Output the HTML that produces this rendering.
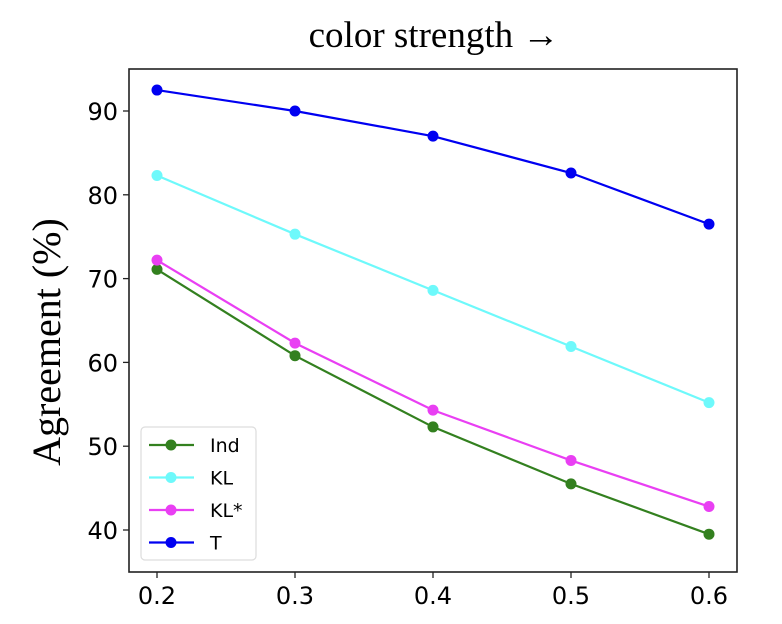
<!DOCTYPE html>
<html><head><meta charset="utf-8"><style>
body{margin:0;background:#fff}
svg{display:block}
</style></head><body>
<svg id="chart" width="782" height="624" xmlns="http://www.w3.org/2000/svg">
<text x="434" y="47" text-anchor="middle" font-family="Liberation Serif, serif" font-size="37">color strength →</text>
<text transform="translate(60,342) rotate(-90)" text-anchor="middle" font-family="Liberation Serif, serif" font-size="40">Agreement (%)</text>
<g id="plot"></g>
</svg>
<script>
const xCats=[0.2,0.3,0.4,0.5,0.6];
const xTickLabels=["0.2","0.3","0.4","0.5","0.6"];
const yTicks=[40,50,60,70,80,90];
const seriesNames=["Ind","KL","KL*","T"];
const indVals=[71.1,60.8,52.3,45.5,39.5];
const klVals=[82.3,75.3,68.6,61.9,55.2];
const klsVals=[72.2,62.3,54.3,48.3,42.8];
const tVals=[92.5,90.0,87.0,82.6,76.5];
const colors=["#33801f","#6ef9fb","#e93ff3","#0000f1"];
const all=[indVals,klVals,klsVals,tVals];
const L=129,R=737,T=69,B=572;
const xs=v=>157+(v-0.2)/0.4*(709-157);
const ys=v=>530-(v-40)/50*(530-111);
const NS="http://www.w3.org/2000/svg";
const g=document.getElementById('plot');
function mk(t,a,p){const e=document.createElementNS(NS,t);for(const k in a)e.setAttribute(k,a[k]);(p||g).appendChild(e);return e;}
const frame=mk('rect',{x:L,y:T,width:R-L,height:B-T,fill:'none',stroke:'#222','stroke-width':1.6});


xCats.forEach((c,i)=>{
 const tk=mk('line',{x1:xs(c),x2:xs(c),y1:B,y2:B+6,stroke:'#222','stroke-width':1.3});
 
 
 const t=mk('text',{x:xs(c),y:B+32,'text-anchor':'middle','font-family':'DejaVu Sans, sans-serif','font-size':24});
 t.textContent=xTickLabels[i];
 
 
});
yTicks.forEach(v=>{
 const tk=mk('line',{x1:L-6,x2:L,y1:ys(v),y2:ys(v),stroke:'#222','stroke-width':1.3});
 
 
 const t=mk('text',{x:L-11,y:ys(v)+9,'text-anchor':'end','font-family':'DejaVu Sans, sans-serif','font-size':24});
 t.textContent=String(v);
 
 
});
all.forEach((vals,si)=>{
 const pts=vals.map((v,i)=>xs(xCats[i])+','+ys(v)).join(' ');
 const pl=mk('polyline',{points:pts,fill:'none',stroke:colors[si],'stroke-width':2.2});
 
 
 vals.forEach((v,i)=>{
  const c=mk('circle',{cx:xs(xCats[i]),cy:ys(v),r:5.5,fill:colors[si]});
  
  
 });
});
const lg=mk('g',{});


mk('rect',{x:141,y:427,width:115,height:133,rx:4,fill:'#fff',stroke:'#ddd','stroke-width':1.2},lg);
seriesNames.forEach((n,i)=>{
 const y=445+i*32.5;
 const e=mk('g',{},lg);
 
 
 mk('line',{x1:149,x2:194,y1:y,y2:y,stroke:colors[i],'stroke-width':2.2},e);
 mk('circle',{cx:171,cy:y,r:5.5,fill:colors[i]},e);
 const t=mk('text',{x:210,y:y+7,'font-family':'DejaVu Sans, sans-serif','font-size':19},e);
 t.textContent=n;
});
</script>
</body></html>
